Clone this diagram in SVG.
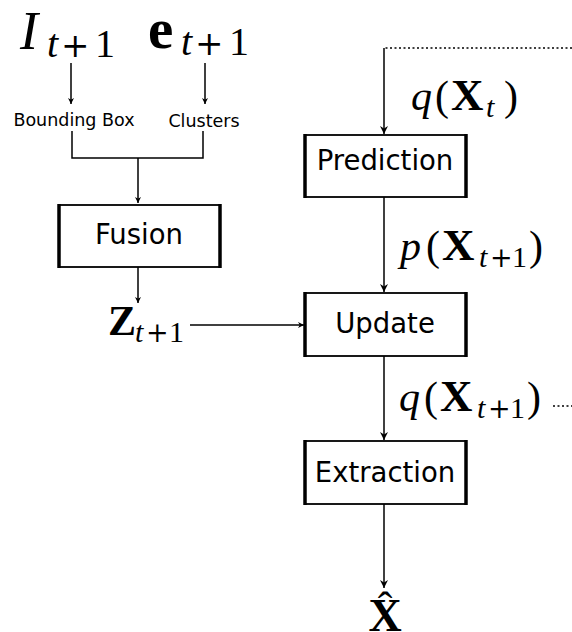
<svg xmlns="http://www.w3.org/2000/svg" width="572" height="632" viewBox="0 0 572 632">
<style>
.box{fill:#fff;stroke:#000;stroke-width:1.8}
.side{stroke:#000;stroke-width:3.5}
.lbl{font-family:"DejaVu Sans",sans-serif;font-size:27.5px;text-anchor:middle;fill:#000}
.small{font-family:"DejaVu Sans",sans-serif;font-size:17.5px;text-anchor:middle;fill:#000}
.m{font-family:"Liberation Serif",serif;fill:#000}
.it{font-style:italic}
.bf{font-weight:bold}
.pl{font-family:"DejaVu Serif",serif;font-weight:normal}
.ln{stroke:#000;stroke-width:1.5;fill:none}
.dot{stroke:#000;stroke-width:1.5;fill:none;stroke-dasharray:2 2.5}
</style>
<defs>
<marker id="ah" viewBox="0 0 10 10" refX="10" refY="5" markerWidth="8" markerHeight="10" markerUnits="userSpaceOnUse" orient="auto">
<path d="M0,0 L10,5 L0,10 L3,5 z" fill="#000"/>
</marker>
<marker id="ahs" viewBox="0 0 10 10" refX="10" refY="5" markerWidth="6" markerHeight="7" markerUnits="userSpaceOnUse" orient="auto">
<path d="M0,0 L10,5 L0,10 L3,5 z" fill="#000"/>
</marker>
</defs>

<g id="connectors">
<line class="ln" x1="71" y1="63" x2="71" y2="104" marker-end="url(#ahs)"/>
<line class="ln" x1="205" y1="63" x2="205" y2="104" marker-end="url(#ahs)"/>
<polyline class="ln" points="72,131 72,158 203,158 203,131"/>
<line class="ln" x1="138" y1="158" x2="138" y2="203" marker-end="url(#ahs)"/>
<line class="ln" x1="138" y1="267" x2="138" y2="303" marker-end="url(#ahs)"/>
<line class="ln" x1="190" y1="325" x2="304" y2="325" marker-end="url(#ahs)"/>
<polyline class="dot" points="572,48 384,48"/>
<line class="ln" x1="384" y1="48" x2="384" y2="134" marker-end="url(#ah)"/>
<line class="ln" x1="384" y1="197" x2="384" y2="292" marker-end="url(#ah)"/>
<line class="ln" x1="384" y1="356" x2="384" y2="440" marker-end="url(#ah)"/>
<line class="ln" x1="384" y1="504" x2="384" y2="588" marker-end="url(#ah)"/>
<line class="dot" x1="553" y1="406" x2="572" y2="406"/>
</g>

<g id="I">
<text class="m"><tspan class="it" x="20" y="49" font-size="54">I</tspan><tspan class="it" x="47" y="57" font-size="40">t</tspan><tspan class="pl" x="61" y="57" font-size="34">+</tspan><tspan x="95" y="57" font-size="40">1</tspan></text>
</g>
<g id="e">
<text class="m"><tspan class="bf" x="148" y="48" font-size="57">e</tspan><tspan class="it" x="181" y="55" font-size="40">t</tspan><tspan class="pl" x="195" y="55" font-size="34">+</tspan><tspan x="229" y="55" font-size="40">1</tspan></text>
</g>
<g id="bbox">
<text class="small" x="74" y="126">Bounding Box</text>
</g>
<g id="clusters">
<text class="small" x="204" y="127">Clusters</text>
</g>

<g id="fusion">
<rect class="box" x="59" y="205" width="161" height="62"/>
<line class="side" x1="59" y1="204" x2="59" y2="268"/>
<line class="side" x1="220" y1="204" x2="220" y2="268"/>
<text class="lbl" x="139" y="244">Fusion</text>
</g>
<g id="z">
<text class="m"><tspan class="bf" x="108" y="335" font-size="42">Z</tspan><tspan class="it" x="135" y="342" font-size="30">t</tspan><tspan class="pl" x="146" y="342" font-size="27">+</tspan><tspan x="169" y="342" font-size="30">1</tspan></text>
</g>

<g id="qxt">
<text class="m" font-size="42"><tspan class="it" x="411" y="110">q</tspan><tspan x="435" y="110">(</tspan><tspan class="bf" x="451" y="110" font-size="45">X</tspan><tspan class="it" x="486" y="117" font-size="30">t</tspan><tspan x="504" y="110">)</tspan></text>
</g>
<g id="prediction">
<rect class="box" x="305" y="135" width="161" height="62"/>
<line class="side" x1="305" y1="134" x2="305" y2="198"/>
<line class="side" x1="466" y1="134" x2="466" y2="198"/>
<text class="lbl" x="385" y="170">Prediction</text>
</g>
<g id="pxt1">
<text class="m" font-size="42"><tspan class="it" x="400" y="260">p</tspan><tspan x="426" y="260">(</tspan><tspan class="bf" x="442" y="260" font-size="45">X</tspan><tspan class="it" x="479" y="267" font-size="30">t</tspan><tspan class="pl" x="490" y="267" font-size="27">+</tspan><tspan x="512" y="267" font-size="30">1</tspan><tspan x="529" y="260">)</tspan></text>
</g>
<g id="update">
<rect class="box" x="305" y="293" width="161" height="63"/>
<line class="side" x1="305" y1="292" x2="305" y2="357"/>
<line class="side" x1="466" y1="292" x2="466" y2="357"/>
<text class="lbl" x="385" y="333">Update</text>
</g>
<g id="qxt1">
<text class="m" font-size="42"><tspan class="it" x="399" y="411">q</tspan><tspan x="424" y="411">(</tspan><tspan class="bf" x="440" y="411" font-size="45">X</tspan><tspan class="it" x="477" y="418" font-size="30">t</tspan><tspan class="pl" x="488" y="418" font-size="27">+</tspan><tspan x="510" y="418" font-size="30">1</tspan><tspan x="527" y="411">)</tspan></text>
</g>
<g id="extraction">
<rect class="box" x="305" y="441" width="161" height="63"/>
<line class="side" x1="305" y1="440" x2="305" y2="505"/>
<line class="side" x1="466" y1="440" x2="466" y2="505"/>
<text class="lbl" x="385" y="482">Extraction</text>
</g>
<g id="xhat">
<text class="m bf" x="385" y="631" font-size="46" text-anchor="middle">X</text>
<text class="m" x="385" y="622" font-size="44" text-anchor="middle">ˆ</text>
</g>
</svg>
